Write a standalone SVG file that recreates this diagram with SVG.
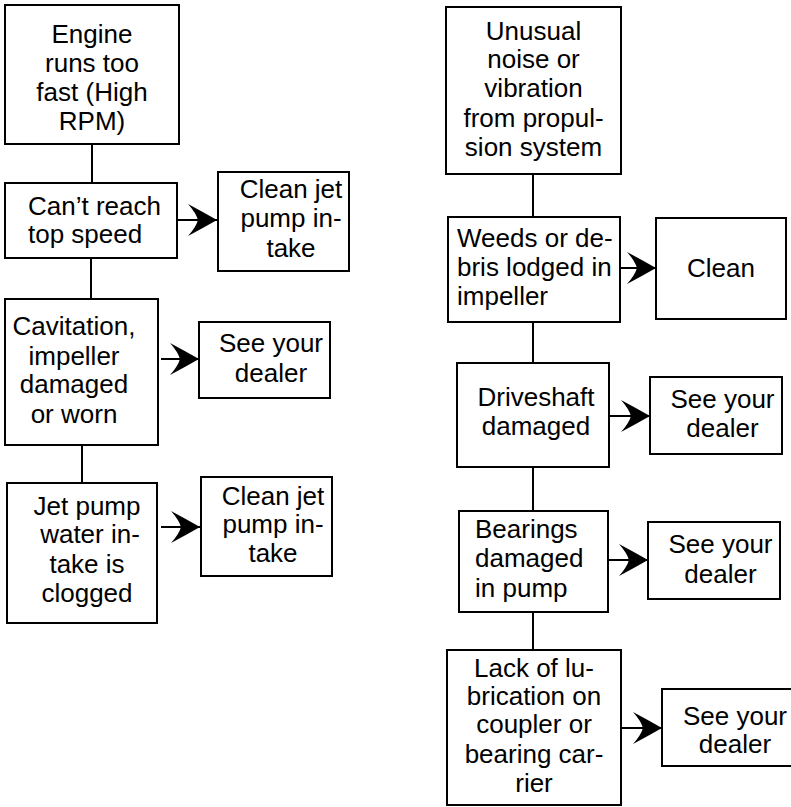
<svg xmlns="http://www.w3.org/2000/svg" width="791" height="807" viewBox="0 0 791 807">
<style>
.box{fill:#fff;stroke:#000;stroke-width:2}
.c{fill:none;stroke:#000;stroke-width:2}
text{font-family:"Liberation Sans",Arial,Helvetica,sans-serif;font-size:26px;fill:#000}
.m{text-anchor:middle}
</style>
<defs>
<marker id="ah" markerUnits="userSpaceOnUse" viewBox="-32 -18 34 36" refX="0" refY="0" markerWidth="34" markerHeight="36" orient="auto">
<path d="M0,0 Q-14,-8 -29,-16 Q-21,-7 -19,0 Q-21,7 -29,16 Q-14,8 0,0 Z" fill="#000"/>
</marker>
</defs>
<rect width="791" height="807" fill="#fff"/>
<g id="connectors">
<line class="c" x1="92" y1="144" x2="92" y2="183"/>
<line class="c" x1="91" y1="258" x2="91" y2="299"/>
<line class="c" x1="82" y1="445" x2="82" y2="483"/>
<line class="c" x1="533" y1="174" x2="533" y2="217"/>
<line class="c" x1="533" y1="322" x2="533" y2="363"/>
<line class="c" x1="533" y1="467" x2="533" y2="511"/>
<line class="c" x1="533" y1="612" x2="533" y2="650"/>
<line class="c" x1="177" y1="220" x2="217" y2="220" marker-end="url(#ah)"/>
<line class="c" x1="161" y1="359" x2="199" y2="359" marker-end="url(#ah)"/>
<line class="c" x1="161" y1="527" x2="200" y2="527" marker-end="url(#ah)"/>
<line class="c" x1="620" y1="268" x2="656" y2="268" marker-end="url(#ah)"/>
<line class="c" x1="609" y1="416" x2="650" y2="416" marker-end="url(#ah)"/>
<line class="c" x1="608" y1="560" x2="648" y2="560" marker-end="url(#ah)"/>
<line class="c" x1="621" y1="728" x2="662" y2="728" marker-end="url(#ah)"/>
</g>
<g id="engine">
<rect class="box" x="5" y="5" width="174" height="139"/>
<text class="m" x="92" y="43">Engine</text>
<text class="m" x="92" y="72">runs too</text>
<text class="m" x="92" y="101">fast (High</text>
<text class="m" x="92" y="130">RPM)</text>
</g>
<g id="cant-reach">
<rect class="box" x="5" y="183" width="172" height="75"/>
<text x="28" y="215">Can’t reach</text>
<text x="28" y="243">top speed</text>
</g>
<g id="clean-jet-1">
<rect class="box" x="218" y="172" width="131" height="99"/>
<text class="m" x="291" y="198">Clean jet</text>
<text class="m" x="291" y="227">pump in-</text>
<text class="m" x="291" y="257">take</text>
</g>
<g id="cavitation">
<rect class="box" x="5" y="299" width="153" height="146"/>
<text class="m" x="74" y="335">Cavitation,</text>
<text class="m" x="74" y="365">impeller</text>
<text class="m" x="74" y="393">damaged</text>
<text class="m" x="74" y="423">or worn</text>
</g>
<g id="dealer-1">
<rect class="box" x="199" y="322" width="131" height="76"/>
<text class="m" x="271" y="352">See your</text>
<text class="m" x="271" y="382">dealer</text>
</g>
<g id="jet-pump">
<rect class="box" x="7" y="483" width="150" height="140"/>
<text class="m" x="87" y="515">Jet pump</text>
<text class="m" x="90" y="543">water in-</text>
<text class="m" x="87" y="573">take is</text>
<text class="m" x="87" y="602">clogged</text>
</g>
<g id="clean-jet-2">
<rect class="box" x="201" y="477" width="131" height="99"/>
<text class="m" x="273" y="505">Clean jet</text>
<text class="m" x="273" y="533">pump in-</text>
<text class="m" x="273" y="562">take</text>
</g>
<g id="unusual">
<rect class="box" x="446" y="7" width="175" height="167"/>
<text class="m" x="533.5" y="40">Unusual</text>
<text class="m" x="533.5" y="68">noise or</text>
<text class="m" x="533.5" y="97">vibration</text>
<text class="m" x="533.5" y="127">from propul-</text>
<text class="m" x="533.5" y="156">sion system</text>
</g>
<g id="weeds">
<rect class="box" x="448" y="217" width="172" height="105"/>
<text x="457" y="247">Weeds or de-</text>
<text x="457" y="276">bris lodged in</text>
<text x="457" y="305">impeller</text>
</g>
<g id="clean">
<rect class="box" x="656" y="218" width="130" height="101"/>
<text class="m" x="721" y="277">Clean</text>
</g>
<g id="driveshaft">
<rect class="box" x="457" y="363" width="152" height="104"/>
<text class="m" x="536" y="406">Driveshaft</text>
<text class="m" x="536" y="435">damaged</text>
</g>
<g id="dealer-2">
<rect class="box" x="650" y="377" width="132" height="77"/>
<text class="m" x="722.5" y="408">See your</text>
<text class="m" x="722.5" y="437">dealer</text>
</g>
<g id="bearings">
<rect class="box" x="459" y="511" width="149" height="101"/>
<text x="475" y="538">Bearings</text>
<text x="475" y="567">damaged</text>
<text x="475" y="597">in pump</text>
</g>
<g id="dealer-3">
<rect class="box" x="648" y="522" width="132" height="77"/>
<text class="m" x="720.5" y="553">See your</text>
<text class="m" x="720.5" y="583">dealer</text>
</g>
<g id="lack">
<rect class="box" x="447" y="650" width="174" height="155"/>
<text class="m" x="534" y="677">Lack of lu-</text>
<text class="m" x="534" y="705">brication on</text>
<text class="m" x="534" y="733">coupler or</text>
<text class="m" x="534" y="763">bearing car-</text>
<text class="m" x="534" y="792">rier</text>
</g>
<g id="dealer-4">
<rect class="box" x="662" y="689" width="132" height="77"/>
<text class="m" x="735" y="725">See your</text>
<text class="m" x="735" y="753">dealer</text>
</g>
</svg>
